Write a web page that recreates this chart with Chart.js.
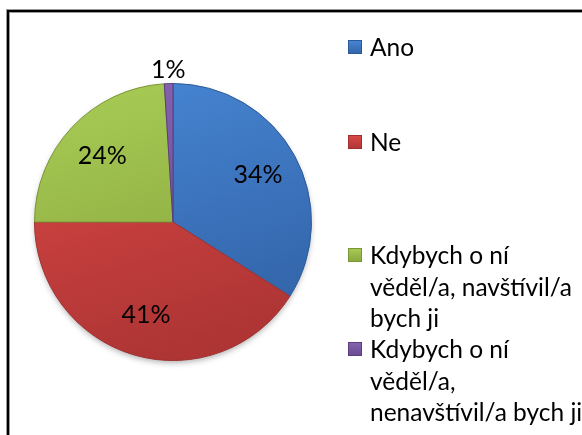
<!DOCTYPE html>
<html><head><meta charset="utf-8">
<script src="https://cdn.jsdelivr.net/npm/chart.js@4.4.1/dist/chart.umd.min.js"></script>
<style>
html,body{margin:0;padding:0;background:#fff;}
#wrap{position:relative;width:582px;height:435px;overflow:hidden;}
</style></head>
<body><div id="wrap"><canvas id="c" width="582" height="435"></canvas></div>
<script>
// ---- data ----
const categories = ['Ano', 'Ne',
  ['Kdybych o ní', 'věděl/a, navštívil/a', 'bych ji'],
  ['Kdybych o ní', 'věděl/a,', 'nenavštívil/a bych ji']];
const values = [34, 41, 24, 1];

// ---- styles ----
const colorsTop    = ['#4887D6', '#DB4946', '#A9CC56', '#8664B2'];
const colorsBottom = ['#3264A8', '#AF3535', '#87A63C', '#68498E'];
const edgeColors   = ['#2C5A98', '#A03030', '#7A9636', '#5B3F7E'];
const FONT = '"Lato", "Noto Sans", sans-serif';
const LABEL_SIZE = 25;
const LEGEND_SIZE = 24.5;

function grad(chart, i, x0, y0, x1, y1) {
  const g = chart.ctx.createLinearGradient(x0, y0, x1, y1);
  g.addColorStop(0, colorsTop[i]);
  g.addColorStop(1, colorsBottom[i]);
  return g;
}

const framePlugin = {
  id: 'frame',
  beforeDraw(chart) {
    const c = chart.ctx;
    c.save();
    c.strokeStyle = '#9a9a9a'; c.lineWidth = 4;
    c.strokeRect(8, 11, 800, 600);
    c.strokeStyle = '#000'; c.lineWidth = 2;
    c.strokeRect(8, 11, 800, 600);
    c.restore();
  },
  beforeDatasetsDraw(chart) {
    const arc = chart.getDatasetMeta(0).data[0];
    if (!arc) return;
    const p = arc.getProps(['x', 'y', 'outerRadius'], true);
    const c = chart.ctx;
    c.save();
    c.shadowColor = 'rgba(0,0,0,0.35)';
    c.shadowBlur = 6; c.shadowOffsetY = 3;
    c.fillStyle = '#ffffff';
    c.beginPath(); c.arc(p.x, p.y, p.outerRadius - 1, 0, Math.PI * 2); c.fill();
    c.restore();
  }
};

const labelPlugin = {
  id: 'pctLabels',
  afterDatasetsDraw(chart) {
    const c = chart.ctx;
    const total = values.reduce((a, b) => a + b, 0);
    c.save();
    c.font = LABEL_SIZE + 'px ' + FONT;
    c.fillStyle = '#000';
    c.textAlign = 'center'; c.textBaseline = 'middle';
    chart.getDatasetMeta(0).data.forEach((arc, i) => {
      const p = arc.getProps(['x', 'y', 'startAngle', 'endAngle', 'outerRadius'], true);
      const mid = (p.startAngle + p.endAngle) / 2;
      const frac = values[i] / total;
      const d = frac < 0.05 ? p.outerRadius + 14 : p.outerRadius * 0.7;
      c.fillText(Math.round(frac * 100) + '%', p.x + Math.cos(mid) * d, p.y + Math.sin(mid) * d);
    });
    c.restore();
  }
};

const legendPlugin = {
  id: 'sideLegend',
  afterDraw(chart) {
    const c = chart.ctx;
    const rowsY = [47, 142, 255, 349];
    const lineH = 31.6, sqX = 348, sqS = 14, txtX = 370;
    c.save();
    c.font = LEGEND_SIZE + 'px ' + FONT;
    c.textAlign = 'left'; c.textBaseline = 'middle';
    chart.data.labels.forEach((lab, i) => {
      const y = rowsY[i];
      const lines = Array.isArray(lab) ? lab : [lab];
      c.fillStyle = grad(chart, i, 0, y - sqS / 2, 0, y + sqS / 2);
      c.fillRect(sqX, y - sqS / 2, sqS, sqS);
      c.strokeStyle = edgeColors[i]; c.lineWidth = 1;
      c.strokeRect(sqX + 0.5, y - sqS / 2 + 0.5, sqS - 1, sqS - 1);
      c.fillStyle = '#000';
      lines.forEach((t, k) => c.fillText(t, txtX, y + k * lineH + 1));
    });
    c.restore();
  }
};

new Chart(document.getElementById('c'), {
  type: 'pie',
  data: {
    labels: categories,
    datasets: [{
      data: values,
      backgroundColor: (ctx) => {
        const a = ctx.chart.chartArea;
        if (!a) return colorsTop[ctx.dataIndex];
        return grad(ctx.chart, ctx.dataIndex, a.left, a.top, a.left + a.width * 0.3, a.bottom);
      },
      borderColor: (ctx) => edgeColors[ctx.dataIndex],
      borderWidth: 1,
      hoverOffset: 0
    }]
  },
  options: {
    responsive: false,
    animation: false,
    layout: { padding: { left: 34, right: 270, top: 83, bottom: 74 } },
    plugins: { legend: { display: false }, tooltip: { enabled: false } },
    events: []
  },
  plugins: [framePlugin, labelPlugin, legendPlugin]
});
</script>
</body></html>
